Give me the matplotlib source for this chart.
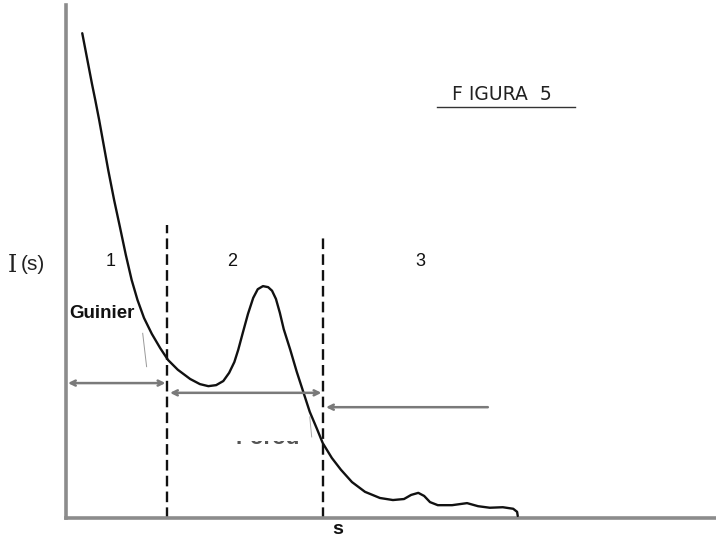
import matplotlib
matplotlib.use("Agg")
import matplotlib.pyplot as plt
from matplotlib.patches import Rectangle

# scattering curve I(s), arbitrary units (axes 0-10 both ways)
s_vals = [0.25, 0.30, 0.35, 0.40, 0.45, 0.51, 0.58, 0.65, 0.74, 0.83, 0.92,
          1.01, 1.10, 1.20, 1.32, 1.45, 1.57, 1.72, 1.91, 2.06, 2.19, 2.31,
          2.42, 2.51, 2.59, 2.65, 2.72, 2.80, 2.88, 2.95, 3.03, 3.11, 3.17,
          3.23, 3.29, 3.35, 3.45, 3.55, 3.65, 3.75, 3.86, 3.95, 4.09, 4.23,
          4.40, 4.60, 4.83, 5.03, 5.20, 5.31, 5.42, 5.51, 5.60, 5.72, 5.94,
          6.17, 6.34, 6.52, 6.72, 6.88, 6.94, 6.95]
i_vals = [9.45, 9.12, 8.79, 8.46, 8.15, 7.76, 7.27, 6.78, 6.20, 5.67, 5.13,
          4.64, 4.25, 3.90, 3.59, 3.31, 3.08, 2.89, 2.71, 2.61, 2.57, 2.59,
          2.67, 2.83, 3.04, 3.28, 3.61, 3.98, 4.29, 4.46, 4.52, 4.50, 4.43,
          4.27, 4.00, 3.68, 3.28, 2.85, 2.46, 2.07, 1.74, 1.46, 1.17, 0.94,
          0.70, 0.51, 0.39, 0.35, 0.37, 0.45, 0.49, 0.43, 0.31, 0.25, 0.25,
          0.29, 0.23, 0.20, 0.21, 0.18, 0.12, 0.04]

# region boundaries (s) and their top (I)
bound_s = [1.55, 3.95]
bound_top = [5.71, 5.52]

# range arrows: (s_start, s_end, I level, style)
arrows = [(0.03, 1.53, 2.63, "<->"),
          (1.60, 3.93, 2.44, "<->"),
          (4.00, 6.49, 2.16, "<-")]

region_labels = ["1", "2", "3"]
region_s = [0.68, 2.55, 5.45]

W, H = 716, 543
fig = plt.figure(figsize=(W / 100, H / 100), dpi=100)
fig.patch.set_facecolor("white")


def px(x, y):
    return x / W, 1 - y / H


ax = fig.add_axes([66 / W, 1 - 518 / H, 650 / W, 513 / H])
ax.set_xlim(0, 10)
ax.set_ylim(0, 10)
ax.set_xticks([])
ax.set_yticks([])
for sp in ["top", "right"]:
    ax.spines[sp].set_visible(False)
for sp in ["left", "bottom"]:
    ax.spines[sp].set_color("#8c8c8c")
    ax.spines[sp].set_linewidth(2.6)

ax.plot(s_vals, i_vals, color="#111111", lw=1.7, solid_joinstyle="round",
        solid_capstyle="round", zorder=3)

for bs, bt in zip(bound_s, bound_top):
    ax.plot([bs, bs], [0, bt], color="#111111", lw=1.7, ls=(0, (4.5, 2.2)), zorder=2)

for x0, x1, lev, st in arrows:
    ax.annotate("", xy=(x1, lev), xytext=(x0, lev),
                arrowprops=dict(arrowstyle=st, color="#7a7a7a", lw=1.8,
                                shrinkA=0, shrinkB=0, mutation_scale=9))

# faint pointer strokes
ax.plot([1.18, 1.24], [3.60, 2.95], color="#999999", lw=0.7)
ax.plot([3.75, 3.78], [1.97, 1.58], color="#aaaaaa", lw=0.7)

for lab, rs in zip(region_labels, region_s):
    ax.text(rs, 5.0, lab, fontsize=13, ha="center", va="center",
            family="Liberation Sans", color="#111111")

# text labels
fig.text(*px(12, 265), "I", fontsize=17, family="DejaVu Serif",
         ha="center", va="center", color="#222222")
fig.text(*px(21, 265), "(s)", fontsize=15, family="Liberation Sans",
         ha="left", va="center", color="#222222")
fig.text(*px(69, 313), "Guinier", fontsize=13.5, family="Liberation Sans",
         fontweight="bold", ha="left", va="center", color="#111111")
fig.text(*px(338, 529), "s", fontsize=14, family="Liberation Sans",
         fontweight="bold", ha="center", va="center", color="#111111")
fig.text(*px(452, 94), "F IGURA  5", fontsize=13.5, family="DejaVu Sans",
         ha="left", va="center", color="#222222")
fig.add_artist(plt.Line2D([437 / W, 575 / W], [1 - 107 / H, 1 - 107 / H],
                          color="#333333", lw=1.0))

# faded label, only lower half legible in the scan
t = fig.text(*px(268, 438), "Porod", fontsize=16, family="Liberation Sans",
             fontweight="bold", ha="center", va="center", color="#555555")
clip = Rectangle((0, 0), 1, 1 - 441 / H, transform=fig.transFigure,
                 visible=False)
fig.add_artist(clip)
t.set_clip_path(clip)

fig.savefig("out.png", dpi=100, facecolor="white")
